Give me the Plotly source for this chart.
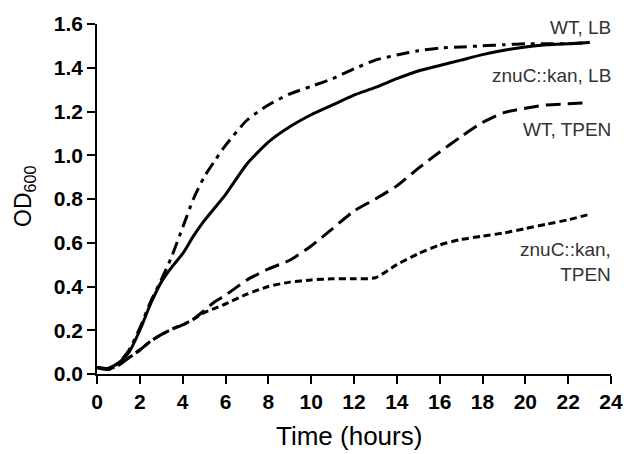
import plotly.graph_objects as go

time_h = [0, 0.5, 1, 1.5, 2, 2.5, 3, 3.5, 4, 4.5, 5, 5.5, 6, 7, 8, 9, 10, 11, 12,
          13, 14, 15, 16, 17, 18, 19, 20, 21, 22, 23]

wt_lb = [0.03, 0.025, 0.05, 0.11, 0.21, 0.33, 0.43, 0.54, 0.67, 0.80, 0.90, 0.975,
         1.045, 1.16, 1.23, 1.28, 1.315, 1.35, 1.395, 1.435, 1.458, 1.478, 1.49,
         1.495, 1.50, 1.505, 1.51, 1.51, 1.51, 1.515]

znuc_lb = [0.03, 0.025, 0.05, 0.10, 0.20, 0.32, 0.42, 0.49, 0.55, 0.63, 0.70, 0.76,
           0.82, 0.96, 1.06, 1.13, 1.185, 1.23, 1.275, 1.31, 1.35, 1.385, 1.41,
           1.435, 1.46, 1.48, 1.495, 1.505, 1.51, 1.515]

wt_tpen = [0.03, 0.02, 0.04, 0.075, 0.11, 0.15, 0.18, 0.205, 0.225, 0.25, 0.29, 0.33,
           0.36, 0.43, 0.48, 0.52, 0.585, 0.665, 0.745, 0.80, 0.86, 0.94, 1.015,
           1.085, 1.15, 1.195, 1.215, 1.23, 1.235, 1.24]

znuc_tpen = [0.03, 0.02, 0.04, 0.075, 0.11, 0.15, 0.18, 0.205, 0.225, 0.25, 0.28, 0.30,
             0.32, 0.365, 0.40, 0.42, 0.43, 0.435, 0.435, 0.44, 0.50, 0.55, 0.59,
             0.615, 0.63, 0.645, 0.665, 0.685, 0.705, 0.73]

x_ticks = list(range(0, 25, 2))
y_ticks = [0.0, 0.2, 0.4, 0.6, 0.8, 1.0, 1.2, 1.4, 1.6]

labels = ["WT, LB", "znuC::kan, LB", "WT, TPEN", "znuC::kan,<br>TPEN"]
label_y = [1.584, 1.364, 1.116, 0.51]

series = [
    (wt_lb, "13px,6px,4px,6px"),
    (znuc_lb, "solid"),
    (wt_tpen, "15px,7px"),
    (znuc_tpen, "7px,4px"),
]

fig = go.Figure()
for vals, dash in series:
    fig.add_trace(go.Scatter(x=time_h, y=vals, mode="lines",
                             line=dict(color="black", width=3, dash=dash, shape="spline", smoothing=0.6),
                             showlegend=False))

for txt, yy in zip(labels, label_y):
    fig.add_annotation(x=1.0, y=yy, xref="paper", yref="y", text=txt, showarrow=False,
                       xanchor="right", yanchor="middle", align="right", xshift=2,
                       font=dict(family="Liberation Sans, Arial", size=19, color="#333333"))

fig.add_annotation(x=-0.14, y=0.506, xref="paper", yref="paper", text="OD<sub>600</sub>",
                   showarrow=False, textangle=-90, xanchor="center", yanchor="middle",
                   font=dict(family="Liberation Sans, Arial", size=23, color="black"))
fig.add_annotation(x=0.49, y=-0.178, xref="paper", yref="paper", text="Time (hours)",
                   showarrow=False, xanchor="center", yanchor="middle",
                   font=dict(family="Liberation Sans, Arial", size=26, color="black"))

axis_common = dict(showgrid=False, zeroline=False, showline=True, linecolor="black",
                   linewidth=1.5, ticks="outside", ticklen=8, tickwidth=1.5,
                   tickcolor="black",
                   tickfont=dict(family="Liberation Sans, Arial", size=21, color="black",
                                 weight="bold"))

fig.update_xaxes(range=[0, 24], tickvals=x_ticks, **axis_common)
fig.update_yaxes(range=[0, 1.6], tickvals=y_ticks, tickformat=".1f", **axis_common)

fig.update_layout(width=635, height=454, margin=dict(l=97, r=14, t=24, b=80),
                  plot_bgcolor="white", paper_bgcolor="white")

fig.write_html("out.html")
